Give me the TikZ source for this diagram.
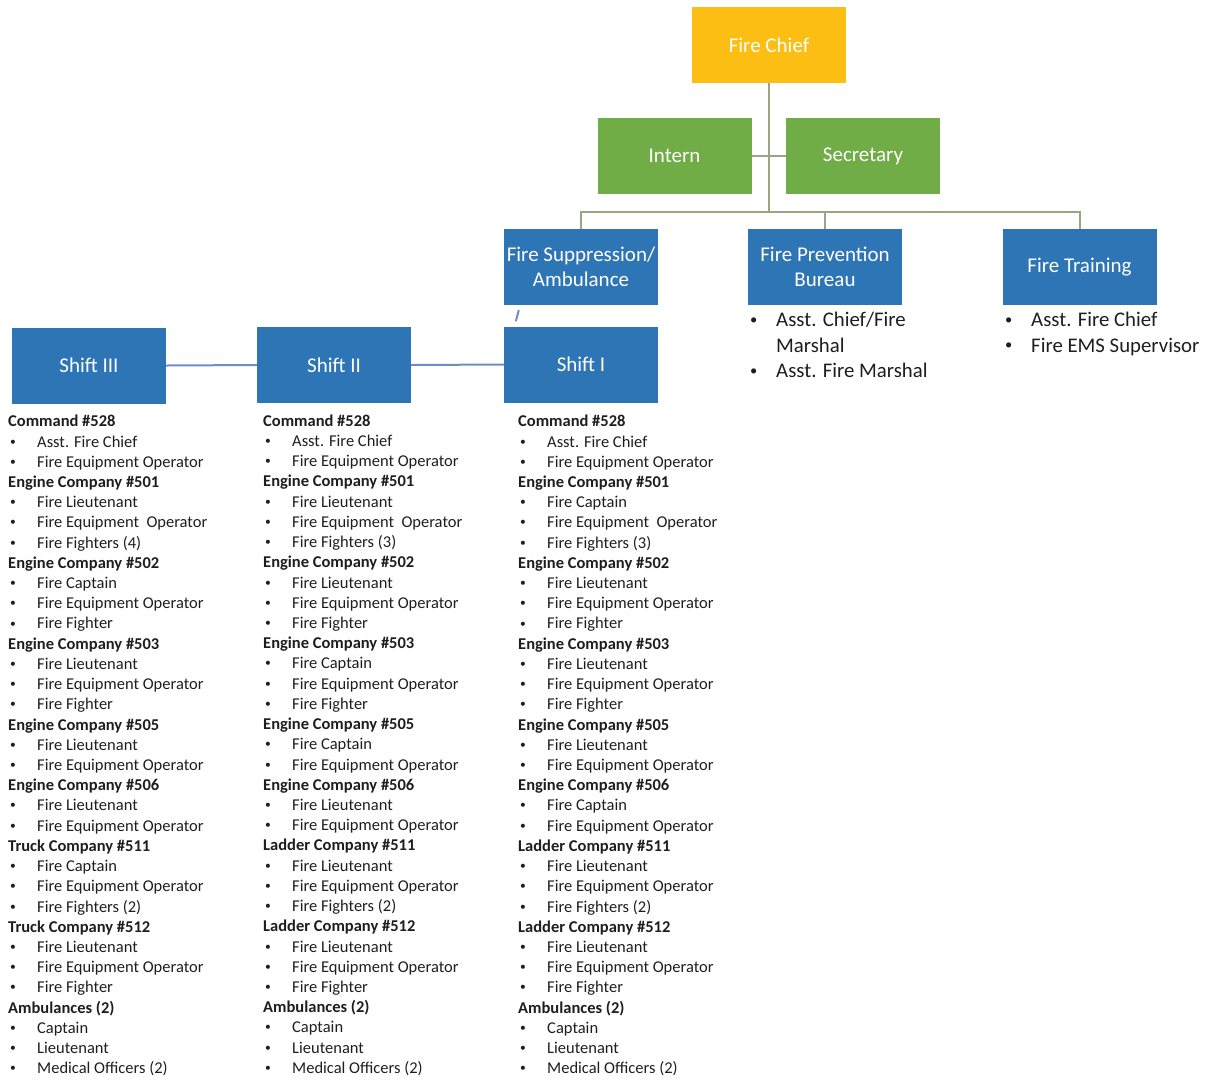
\documentclass[tikz,border=0pt]{standalone}
\usepackage{fontspec}
\setmainfont{Carlito}
\usetikzlibrary{positioning}

\definecolor{chiefgold}{RGB}{252,190,18}
\definecolor{staffgreen}{RGB}{112,173,71}
\definecolor{unitblue}{RGB}{46,117,182}
\definecolor{treeline}{RGB}{150,168,130}
\definecolor{shiftline}{RGB}{112,140,200}
\definecolor{listtext}{RGB}{30,30,30}

\newcommand{\bul}{\raisebox{0.12em}{\scalebox{0.7}{\textbullet}}}
\newcommand{\hd}[1]{\textbf{#1}}
\newcommand{\itm}[1]{\hspace*{2pt}\makebox[27pt][l]{\bul}#1}
\newcommand{\sitm}[1]{\makebox[26pt][l]{\bul}#1}

\begin{document}
\begin{tikzpicture}[x=1pt, y=-1pt,
  box/.style={rectangle, minimum width=154pt, minimum height=76pt, inner sep=0pt,
              text=white, align=center, font=\fontsize{21}{25}\selectfont},
  chiefbox/.style={box, fill=chiefgold},
  staffbox/.style={box, fill=staffgreen},
  unitbox/.style={box, fill=unitblue},
  duties/.style={anchor=north west, inner sep=0pt, align=left, text=listtext,
                 font=\fontsize{16.5}{20.22}\selectfont},
  sidelist/.style={anchor=north west, inner sep=0pt, align=left, text=listtext,
                   font=\fontsize{20.8}{25.5}\selectfont}]
  \useasboundingbox (0,0) rectangle (1215,1080);

  % top of the tree
  \node[chiefbox] (chief) at (769,45) {Fire Chief};
  \node[staffbox] (intern) at (674.5,156) {Intern};
  \node[staffbox] (secretary) at (863,156) {Secretary};

  \node[unitbox] (supp) at (581,267) {Fire Suppression/\\Ambulance};
  \node[unitbox] (prev) at (825,267) {Fire Prevention\\Bureau};
  \node[unitbox] (train) at (1079.5,267) {Fire Training};

  \coordinate (bus) at (769,212);
  \draw[treeline, line width=2pt] (chief.south) -- (bus);
  \draw[treeline, line width=2pt] (intern.east) -- (secretary.west);
  \draw[treeline, line width=2pt] (supp.north) |- (bus) -| (train.north);
  \draw[treeline, line width=2pt] (prev.north) -- (prev.north |- bus);

  % shifts
  \node[unitbox] (shift1) at (581,364.5) {Shift I};
  \node[unitbox] (shift2) at (334,365) {Shift II};
  \node[unitbox] (shift3) at (89,365.5) {Shift III};

  \draw[shiftline, line width=2pt] (shift3.east) -- (shift2.west);
  \draw[shiftline, line width=2pt] (shift2.east) -- (shift1.west);
  \draw[shiftline, line width=2pt] ([xshift=12pt,yshift=5pt]shift1.north west)
     -- ([xshift=15pt,yshift=-5pt]supp.south west);

  % lists under the bureaus
  \node[sidelist] (prevlist) at (750,312) {\sitm{Asst. Chief/Fire}\\
     \hspace*{26pt}Marshal\\ \sitm{Asst. Fire Marshal}};
  \node[sidelist] (trainlist) at (1005,312) {\sitm{Asst. Fire Chief}\\
     \sitm{Fire EMS Supervisor}};

  % crews of each shift
  \node[duties] (crew3) at (8,415) {\hd{Command \#528}\\ \itm{Asst. Fire Chief}\\
     \itm{Fire Equipment Operator}\\ \hd{Engine Company \#501}\\ \itm{Fire Lieutenant}\\
     \itm{Fire Equipment\ \ Operator}\\ \itm{Fire Fighters (4)}\\ \hd{Engine Company \#502}\\
     \itm{Fire Captain}\\ \itm{Fire Equipment Operator}\\ \itm{Fire Fighter}\\
     \hd{Engine Company \#503}\\ \itm{Fire Lieutenant}\\ \itm{Fire Equipment Operator}\\
     \itm{Fire Fighter}\\ \hd{Engine Company \#505}\\ \itm{Fire Lieutenant}\\
     \itm{Fire Equipment Operator}\\ \hd{Engine Company \#506}\\ \itm{Fire Lieutenant}\\
     \itm{Fire Equipment Operator}\\ \hd{Truck Company \#511}\\ \itm{Fire Captain}\\
     \itm{Fire Equipment Operator}\\ \itm{Fire Fighters (2)}\\ \hd{Truck Company \#512}\\
     \itm{Fire Lieutenant}\\ \itm{Fire Equipment Operator}\\ \itm{Fire Fighter}\\
     \hd{Ambulances (2)}\\ \itm{Captain}\\ \itm{Lieutenant}\\ \itm{Medical Officers (2)}};

  \node[duties] (crew2) at (263,414.5) {\hd{Command \#528}\\ \itm{Asst. Fire Chief}\\
     \itm{Fire Equipment Operator}\\ \hd{Engine Company \#501}\\ \itm{Fire Lieutenant}\\
     \itm{Fire Equipment\ \ Operator}\\ \itm{Fire Fighters (3)}\\ \hd{Engine Company \#502}\\
     \itm{Fire Lieutenant}\\ \itm{Fire Equipment Operator}\\ \itm{Fire Fighter}\\
     \hd{Engine Company \#503}\\ \itm{Fire Captain}\\ \itm{Fire Equipment Operator}\\
     \itm{Fire Fighter}\\ \hd{Engine Company \#505}\\ \itm{Fire Captain}\\
     \itm{Fire Equipment Operator}\\ \hd{Engine Company \#506}\\ \itm{Fire Lieutenant}\\
     \itm{Fire Equipment Operator}\\ \hd{Ladder Company \#511}\\ \itm{Fire Lieutenant}\\
     \itm{Fire Equipment Operator}\\ \itm{Fire Fighters (2)}\\ \hd{Ladder Company \#512}\\
     \itm{Fire Lieutenant}\\ \itm{Fire Equipment Operator}\\ \itm{Fire Fighter}\\
     \hd{Ambulances (2)}\\ \itm{Captain}\\ \itm{Lieutenant}\\ \itm{Medical Officers (2)}};

  \node[duties] (crew1) at (518,415) {\hd{Command \#528}\\ \itm{Asst. Fire Chief}\\
     \itm{Fire Equipment Operator}\\ \hd{Engine Company \#501}\\ \itm{Fire Captain}\\
     \itm{Fire Equipment\ \ Operator}\\ \itm{Fire Fighters (3)}\\ \hd{Engine Company \#502}\\
     \itm{Fire Lieutenant}\\ \itm{Fire Equipment Operator}\\ \itm{Fire Fighter}\\
     \hd{Engine Company \#503}\\ \itm{Fire Lieutenant}\\ \itm{Fire Equipment Operator}\\
     \itm{Fire Fighter}\\ \hd{Engine Company \#505}\\ \itm{Fire Lieutenant}\\
     \itm{Fire Equipment Operator}\\ \hd{Engine Company \#506}\\ \itm{Fire Captain}\\
     \itm{Fire Equipment Operator}\\ \hd{Ladder Company \#511}\\ \itm{Fire Lieutenant}\\
     \itm{Fire Equipment Operator}\\ \itm{Fire Fighters (2)}\\ \hd{Ladder Company \#512}\\
     \itm{Fire Lieutenant}\\ \itm{Fire Equipment Operator}\\ \itm{Fire Fighter}\\
     \hd{Ambulances (2)}\\ \itm{Captain}\\ \itm{Lieutenant}\\ \itm{Medical Officers (2)}};
\end{tikzpicture}
\end{document}
